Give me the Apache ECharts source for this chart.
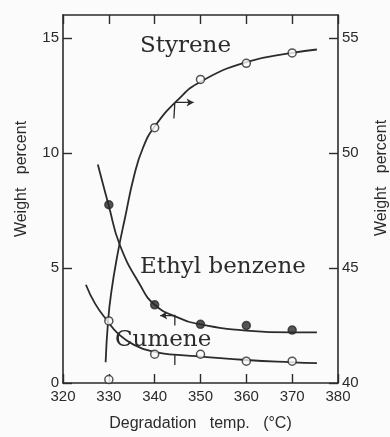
<!DOCTYPE html>
<html>
<head>
<meta charset="utf-8">
<script src="https://cdn.jsdelivr.net/npm/echarts@6/dist/echarts.min.js"></script>
<style>
  html, body { margin: 0; padding: 0; background: #fbfbfb; }
  #chart { width: 390px; height: 437px; }
</style>
</head>
<body>
<div id="chart"></div>
<script>
    // measured points
    var temps = [330, 340, 350, 360, 370];
    var styrene = [40.15, 51.1, 53.2, 53.9, 54.35];      // right axis
    var ethylBenzene = [7.75, 3.4, 2.55, 2.5, 2.3];     // left axis
    var cumene = [2.7, 1.25, 1.25, 0.95, 0.95];         // left axis

    // hand drawn fit curves
    var styreneCurve = [[329.3, 40.9], [329.8, 42.6], [330.5, 43.9], [332, 45.7], [333.5, 47.15], [335.5, 49.0],
        [337.5, 50.25], [340, 51.15], [345, 52.3], [350, 53.1], [360, 53.95], [370, 54.35], [375.4, 54.5]];
    var ethylCurve = [[327.6, 9.5], [330, 7.7], [332.4, 6.0], [336.8, 4.27], [340, 3.4], [345, 2.85],
        [350, 2.55], [360, 2.28], [370, 2.2], [375.4, 2.2]];
    var cumeneCurve = [[325, 4.27], [327, 3.45], [329.6, 2.72], [332, 2.15], [335.3, 1.68], [340, 1.35],
        [345, 1.22], [350, 1.15], [360, 1.0], [370, 0.9], [375.4, 0.86]];

    // little arrows telling which axis a curve belongs to
    var styreneArrow = [[344.5, 52.2], [348.5, 52.2]];
    var styreneTick = [[344.4, 52.2], [344.2, 51.5]];
    var ethylArrow = [[344.4, 2.93], [341.2, 2.93]];
    var ethylTick = [[344.4, 2.97], [344.4, 2.5]];
    var cumeneTick = [[344.4, 1.25], [344.4, 0.78]];

    var ink = '#2b2b2b';
    var sans = 'Liberation Sans';
    var serif = 'DejaVu Serif';

    function pts(xs, ys) {
        return xs.map(function (x, i) { return [x, ys[i]]; });
    }

    function curve(data, axis) {
        return {
            type: 'line', yAxisIndex: axis, data: data, smooth: 0.5,
            symbol: 'none', lineStyle: {color: ink, width: 1.8}, silent: true, z: 2
        };
    }

    function marks(data, axis, filled) {
        return {
            type: 'scatter', yAxisIndex: axis, data: data, symbol: 'circle', symbolSize: 8,
            itemStyle: {color: filled ? ink : '#fbfbfb', borderColor: ink, borderWidth: 1.5}, z: 3
        };
    }

    // dir: 'right' / 'left' puts an arrow head on the second point
    function stroke(data, axis, dir) {
        return {
            type: 'line', yAxisIndex: axis, data: data, showSymbol: true,
            symbol: function (v, p) { return dir && p.dataIndex === 1 ? 'arrow' : 'none'; },
            symbolRotate: dir === 'right' ? -90 : 90, symbolSize: [6, 7],
            lineStyle: {color: ink, width: 1.3}, itemStyle: {color: ink}, silent: true, z: 2
        };
    }

    var axisCommon = {
        axisLine: {show: true, lineStyle: {color: ink, width: 1.6}},
        axisTick: {show: true, inside: true, length: 9, lineStyle: {color: ink, width: 1.4}},
        splitLine: {show: false}
    };

    var option = {
        backgroundColor: '#fbfbfb',
        animation: false,
        grid: {left: 63, right: 52, top: 15, bottom: 51},
        xAxis: [Object.assign({
            type: 'value', min: 320, max: 380, interval: 10, position: 'bottom',
            name: 'Degradation   temp.   (°C)', nameLocation: 'middle', nameGap: 33,
            nameTextStyle: {color: ink, fontFamily: sans, fontSize: 16},
            axisLabel: {color: ink, fontFamily: sans, fontSize: 15, margin: 6}
        }, axisCommon), Object.assign({
            type: 'value', min: 320, max: 380, interval: 10, position: 'top',
            axisLabel: {show: false}
        }, axisCommon)],
        yAxis: [Object.assign({
            type: 'value', min: 0, max: 16, interval: 5, position: 'left',
            axisLabel: {color: ink, fontFamily: sans, fontSize: 15, margin: 4, showMaxLabel: false}
        }, axisCommon), Object.assign({
            type: 'value', min: 40, max: 56, interval: 5, position: 'right',
            axisLabel: {color: ink, fontFamily: sans, fontSize: 15, margin: 4, showMaxLabel: false}
        }, axisCommon)],
        graphic: [
            {type: 'text', x: 22, y: 179, rotation: Math.PI / 2,
                style: {text: 'Weight   percent', fill: ink, font: '16px ' + sans, align: 'center', verticalAlign: 'middle'}},
            {type: 'text', x: 382, y: 178, rotation: Math.PI / 2,
                style: {text: 'Weight   percent', fill: ink, font: '16px ' + sans, align: 'center', verticalAlign: 'middle'}},
            {type: 'text', x: 140, y: 58, z: 10,
                style: {text: 'Styrene', fill: ink, font: '23px ' + serif, align: 'left', verticalAlign: 'bottom'}},
            {type: 'text', x: 140, y: 279, z: 10,
                style: {text: 'Ethyl benzene', fill: ink, font: '23px ' + serif, align: 'left', verticalAlign: 'bottom'}},
            {type: 'text', x: 115, y: 352, z: 10,
                style: {text: 'Cumene', fill: ink, font: '23px ' + serif, align: 'left', verticalAlign: 'bottom'}}
        ],
        series: [
            curve(styreneCurve, 1),
            curve(ethylCurve, 0),
            curve(cumeneCurve, 0),
            stroke(styreneArrow, 1, 'right'),
            stroke(styreneTick, 1),
            stroke(ethylArrow, 0, 'left'),
            stroke(ethylTick, 0),
            stroke(cumeneTick, 0),
            marks(pts(temps, styrene), 1, false),
            marks(pts(temps, ethylBenzene), 0, true),
            marks(pts(temps, cumene), 0, false)
        ]
    };

    var chart = echarts.init(document.getElementById('chart'));
    chart.setOption(option);
</script>
</body>
</html>
